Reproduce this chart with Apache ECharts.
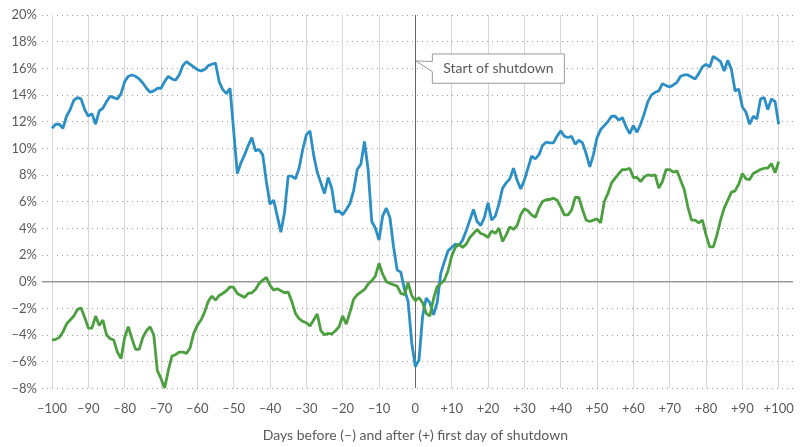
<!DOCTYPE html>
<html>
<head>
<meta charset="utf-8">
<script src="https://cdn.jsdelivr.net/npm/echarts@6/dist/echarts.min.js"></script>
<style>html,body{margin:0;padding:0;background:#fff}#c{width:800px;height:447px}</style>
</head>
<body>
<div id="c"></div>
<script>
// Days relative to the first day of shutdown: -100 ... +100
const dayStart = -100;
const xTicks = [-100,-90,-80,-70,-60,-50,-40,-30,-20,-10,0,10,20,30,40,50,60,70,80,90,100];
const yTicks = [-8,-6,-4,-2,0,2,4,6,8,10,12,14,16,18,20];
const annotationText = 'Start of shutdown';
const xAxisTitle = 'Days before (\u2013) and after (+) first day of shutdown';

// Blue series (%), days -100..+100
const blueValues = [
  11.5,11.8,11.8,11.5,12.4,12.9,13.6,13.8,13.7,12.9,
  12.4,12.6,11.8,12.8,13.0,13.5,13.9,13.8,13.7,14.1,
  15.0,15.4,15.5,15.4,15.2,14.9,14.5,14.2,14.3,14.5,
  14.5,15.0,15.4,15.2,15.1,15.5,16.2,16.5,16.3,16.1,
  15.9,15.8,15.9,16.2,16.3,16.4,15.0,14.4,14.1,14.5,
  11.3,8.1,8.9,9.5,10.2,10.8,9.8,9.9,9.5,7.5,
  5.8,6.1,4.9,3.7,5.2,7.9,7.9,7.7,8.5,9.9,
  11.0,11.3,9.5,8.2,7.4,6.6,7.8,7.0,5.2,5.3,
  5.0,5.4,5.85,6.8,8.4,8.8,10.5,8.4,4.5,4.0,
  3.1,4.9,5.5,4.8,2.6,0.85,0.7,-0.6,-1.5,-4.6,
  -6.4,-5.9,-2.6,-1.25,-1.6,-2.5,-1.6,0.6,1.5,2.3,
  2.55,2.8,2.7,3.1,3.8,4.6,5.4,4.5,4.2,4.8,
  5.9,4.6,4.9,5.8,7.0,7.4,7.7,8.5,7.6,6.95,
  7.6,8.5,9.4,9.2,9.5,10.2,10.45,10.4,10.4,10.9,
  11.3,10.9,10.8,10.9,10.3,10.6,10.4,9.6,8.6,9.5,
  10.8,11.4,11.7,12.0,12.4,12.4,12.1,12.3,11.6,11.1,
  11.7,11.2,11.8,12.6,13.5,14.0,14.2,14.3,14.85,14.7,
  14.6,14.75,14.95,15.4,15.5,15.5,15.35,15.2,15.6,16.1,
  16.3,16.1,16.9,16.7,16.5,15.8,16.6,15.9,14.3,14.45,
  13.1,12.7,11.8,12.4,12.2,13.7,13.8,12.9,13.7,13.5,
  11.8
];

// Green series (%), days -100..+100
const greenValues = [
  -4.4,-4.35,-4.2,-3.8,-3.2,-2.9,-2.6,-2.1,-2.0,-2.7,
  -3.5,-3.5,-2.6,-3.3,-2.9,-4.0,-4.3,-4.4,-5.3,-5.8,
  -4.2,-3.4,-4.3,-5.1,-5.1,-4.2,-3.7,-3.4,-4.0,-6.7,
  -7.3,-8.0,-6.7,-5.6,-5.5,-5.3,-5.3,-5.4,-5.0,-3.9,
  -3.3,-2.9,-2.3,-1.5,-1.1,-1.4,-1.05,-0.9,-0.7,-0.4,
  -0.45,-0.9,-1.05,-1.2,-0.9,-0.85,-0.6,-0.15,0.1,0.3,
  -0.3,-0.65,-0.55,-0.7,-0.85,-0.8,-1.5,-2.4,-2.8,-3.0,
  -3.1,-3.35,-2.9,-2.45,-3.7,-4.0,-3.9,-3.95,-3.7,-3.4,
  -2.6,-3.2,-2.3,-1.35,-1.0,-0.8,-0.6,-0.2,0.05,0.4,
  1.36,0.55,0.0,-0.15,-0.25,-0.35,-0.9,-1.0,-0.1,-1.05,
  -1.45,-1.2,-1.6,-2.4,-2.6,-1.3,-0.4,-0.15,0.1,0.8,
  1.9,2.55,2.8,2.55,2.8,3.3,3.6,3.9,3.6,3.5,
  3.3,3.8,3.6,4.0,3.0,3.5,4.1,3.9,4.2,5.0,
  5.45,5.3,5.0,4.8,5.5,6.0,6.13,6.15,6.25,6.1,
  5.6,5.0,5.0,5.35,6.3,6.3,5.4,4.6,4.5,4.6,
  4.7,4.4,6.0,6.6,7.4,7.75,8.1,8.4,8.4,8.5,
  7.8,7.8,7.5,7.85,8.0,7.95,8.0,7.0,7.5,8.4,
  8.4,8.2,8.3,7.6,6.9,5.6,4.6,4.6,4.4,4.6,
  3.5,2.6,2.6,3.5,4.6,5.5,6.1,6.7,6.8,7.3,
  8.1,7.7,7.65,8.1,8.25,8.4,8.5,8.5,8.85,8.15,
  9.0
];

const BLUE = '#2b8fc5';
const GREEN = '#4b9f3f';
const TEXT = '#5a5a5a';
const FONT = 'Lato';

const toPairs = vals => vals.map((v, i) => [dayStart + i, v]);

function fmtX(v) {
  if (xTicks.indexOf(v) < 0) return '';
  if (v < 0) return '\u2013' + Math.abs(v);
  if (v > 0) return '+' + v;
  return '0';
}
function fmtY(v) {
  if (yTicks.indexOf(v) < 0) return '';
  return (v < 0 ? '\u2013' + Math.abs(v) : String(v)) + '%';
}

const chart = echarts.init(document.getElementById('c'), null, {renderer: 'canvas'});

const TOP = 15, BOTTOM = 58.6;
chart.setOption({
  animation: false,
  backgroundColor: '#fff',
  textStyle: {fontFamily: FONT},
  grid: [
    {left: 42, right: 7, top: TOP, bottom: BOTTOM},
    {left: 52, right: 21.3, top: TOP, bottom: BOTTOM}
  ],
  xAxis: [
    {type: 'value', gridIndex: 0, min: 0, max: 1, show: false},
    {
      type: 'value', gridIndex: 1, min: -100, max: 100, interval: 10,
      axisLine: {show: false}, axisTick: {show: false},
      axisLabel: {formatter: fmtX, color: TEXT, fontSize: 13, fontFamily: FONT, margin: 14},
      splitLine: {show: true, lineStyle: {color: '#d6d6d6', width: 1}},
      name: xAxisTitle, nameLocation: 'middle', nameGap: 40,
      nameTextStyle: {color: TEXT, fontSize: 14, fontFamily: FONT}
    }
  ],
  yAxis: [
    {
      type: 'value', gridIndex: 0, min: -8, max: 20, interval: 2,
      axisLine: {show: false}, axisTick: {show: false},
      axisLabel: {formatter: fmtY, color: TEXT, fontSize: 13, fontFamily: FONT, margin: 5},
      splitLine: {show: true, lineStyle: {color: '#9a9a9a', width: 1, type: [1, 4]}}
    },
    {type: 'value', gridIndex: 1, min: -8, max: 20, show: false}
  ],
  series: [
    {
      name: 'zero', type: 'line', xAxisIndex: 0, yAxisIndex: 0,
      data: [[0, 0], [1, 0]], symbol: 'none', silent: true,
      lineStyle: {color: '#999', width: 1.5}, z: 1
    },
    {
      name: 'blue', type: 'line', xAxisIndex: 1, yAxisIndex: 1,
      data: toPairs(blueValues), symbol: 'none', smooth: false,
      lineStyle: {color: BLUE, width: 2.8}, z: 3,
      markLine: {
        silent: true, symbol: 'none', label: {show: false},
        lineStyle: {color: '#666', width: 1, type: 'solid'},
        data: [{xAxis: 0}], z: 2
      }
    },
    {
      name: 'green', type: 'line', xAxisIndex: 1, yAxisIndex: 1,
      data: toPairs(greenValues), symbol: 'none', smooth: false,
      lineStyle: {color: GREEN, width: 2.8}, z: 4
    }
  ]
});

// Callout annotation anchored on the shutdown line
const tip = chart.convertToPixel({xAxisIndex: 1, yAxisIndex: 1}, [0, 16.55]);
const tx = tip[0] + 0.5, ty = tip[1];
const bx = tx + 16.5, bTop = ty - 7, bBot = ty + 22.3, bRight = bx + 132;
chart.setOption({
  graphic: [
    {
      type: 'polygon', z: 100,
      shape: {points: [[tx, ty], [bx, ty + 0.5], [bx, bTop], [bRight, bTop], [bRight, bBot], [bx, bBot], [bx, ty + 10.7]]},
      style: {fill: '#fff', stroke: '#9a9a9a', lineWidth: 1}
    },
    {
      type: 'text', z: 101,
      x: (bx + bRight) / 2, y: (bTop + bBot) / 2,
      style: {text: annotationText, fill: TEXT, font: '14px Lato', align: 'center', verticalAlign: 'middle'}
    }
  ]
});
</script>
</body>
</html>
